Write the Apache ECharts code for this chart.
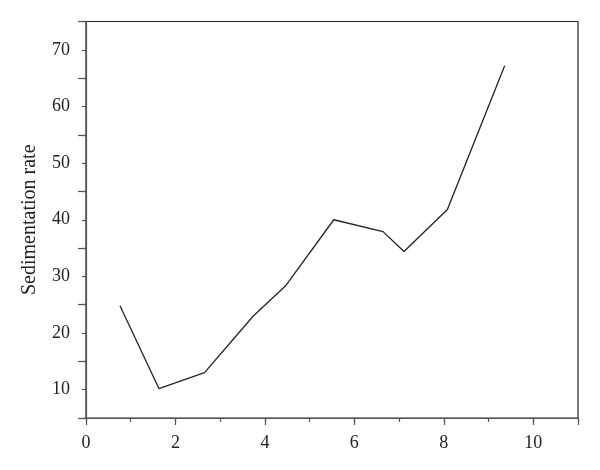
<!DOCTYPE html>
<html>
<head>
<meta charset="utf-8">
<script src="https://cdn.jsdelivr.net/npm/echarts@6/dist/echarts.min.js"></script>
<style>html,body{margin:0;padding:0;background:#fff;}#c{width:600px;height:470px;}</style>
</head>
<body>
<div id="c"></div>
<script>
const xValues = [0.76, 1.63, 2.65, 3.74, 4.47, 5.54, 6.64, 7.11, 8.08, 9.36];
const yValues = [24.8, 10.2, 13.0, 23.0, 28.4, 40.0, 37.9, 34.4, 41.8, 67.2];
const xTicks = [0, 2, 4, 6, 8, 10];
const yTicks = [10, 20, 30, 40, 50, 60, 70];
const yLabel = 'Sedimentation rate';

const font = '"Liberation Serif", "DejaVu Serif", serif';
const chart = echarts.init(document.getElementById('c'), null, {renderer: 'canvas'});
chart.setOption({
  animation: false,
  backgroundColor: '#fff',
  grid: {left: 86, top: 21.5, right: 22, bottom: 52, show: true, borderColor: '#222', borderWidth: 1.2, backgroundColor: 'transparent'},
  xAxis: [{
    type: 'value', min: 0, max: 11, interval: 1,
    axisLine: {show: true, onZero: false, lineStyle: {color: '#555', width: 1.2}},
    axisTick: {show: true, inside: false, length: 4, lineStyle: {color: '#555', width: 1.2}},
    splitLine: {show: false},
    axisLabel: {
      color: '#222', fontFamily: font, fontSize: 18, margin: 16,
      formatter: v => xTicks.includes(v) ? String(v) : ''
    }
  }, {
    type: 'value', min: 0, max: 11, interval: 2, position: 'bottom',
    axisLine: {show: false}, axisLabel: {show: false}, splitLine: {show: false},
    axisTick: {show: true, length: 7, lineStyle: {color: '#555', width: 1.2}}
  }],
  yAxis: [{
    type: 'value', min: 5, max: 75, interval: 5,
    name: yLabel, nameLocation: 'middle', nameGap: 46, nameRotate: 90,
    nameTextStyle: {color: '#222', fontFamily: font, fontSize: 20},
    axisLine: {show: true, onZero: false, lineStyle: {color: '#555', width: 1.2}},
    axisTick: {show: true, inside: false, length: 4, lineStyle: {color: '#555', width: 1.2}},
    splitLine: {show: false},
    axisLabel: {
      color: '#222', fontFamily: font, fontSize: 18, margin: 16,
      formatter: v => yTicks.includes(v) ? String(v) : ''
    }
  }, {
    type: 'value', min: 0, max: 70, position: 'left', interval: 10,
    axisLine: {show: false}, axisLabel: {show: false}, splitLine: {show: false},
    axisTick: {show: true, length: 8, lineStyle: {color: '#555', width: 1.2}}
  }],
  series: [{
    type: 'line',
    data: xValues.map((x, i) => [x, yValues[i]]),
    showSymbol: false, symbol: 'none',
    lineStyle: {color: '#222', width: 1.3},
    z: 3
  }]
});
</script>
</body>
</html>
